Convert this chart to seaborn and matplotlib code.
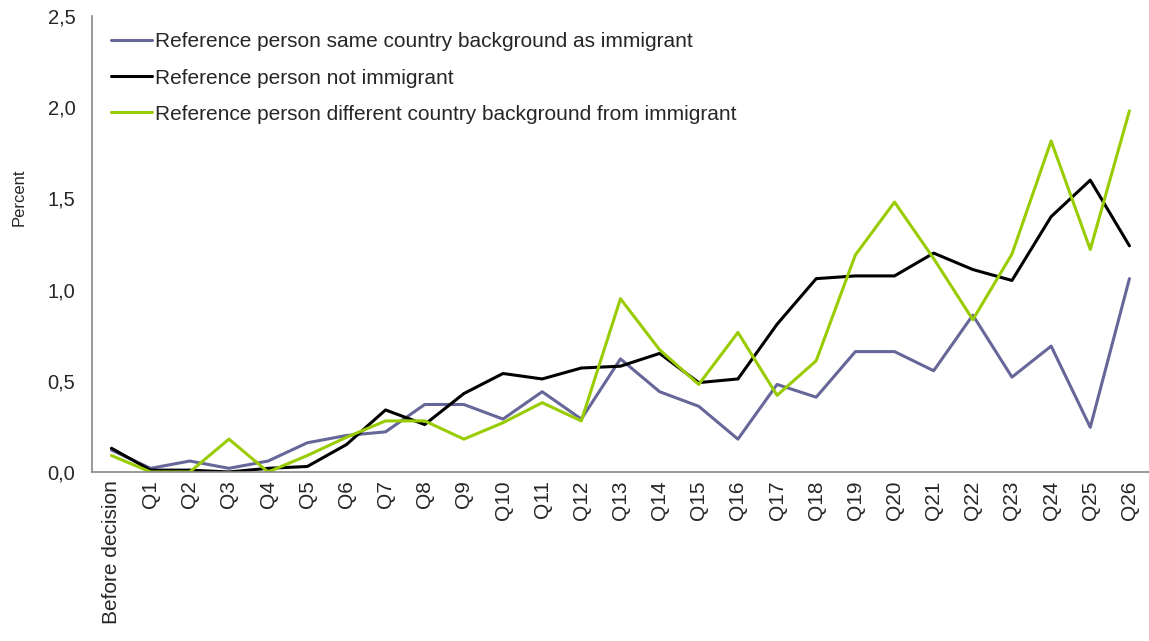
import numpy as np
import pandas as pd
import seaborn as sns
import matplotlib.pyplot as plt
from matplotlib.ticker import FixedLocator, FuncFormatter

# data
periods = ['Before decision'] + ['Q%d' % i for i in range(1, 27)]
same_bg = [0.12, 0.02, 0.06, 0.02, 0.06, 0.16, 0.20, 0.22, 0.37, 0.37, 0.29, 0.44, 0.29, 0.62,
           0.44, 0.36, 0.18, 0.48, 0.41, 0.66, 0.66, 0.555, 0.86, 0.52, 0.69, 0.245, 1.06]
not_imm = [0.13, 0.01, 0.01, 0.0, 0.02, 0.03, 0.15, 0.34, 0.26, 0.43, 0.54, 0.51, 0.57, 0.58,
           0.65, 0.49, 0.51, 0.81, 1.06, 1.075, 1.075, 1.20, 1.11, 1.05, 1.40, 1.60, 1.24]
diff_bg = [0.09, 0.0, 0.0, 0.18, 0.0, 0.09, 0.19, 0.28, 0.28, 0.18, 0.27, 0.38, 0.28, 0.95,
           0.67, 0.48, 0.765, 0.42, 0.61, 1.19, 1.48, 1.17, 0.835, 1.195, 1.815, 1.22, 1.98]

series_names = ['Reference person same country background as immigrant',
                'Reference person not immigrant',
                'Reference person different country background from immigrant']
colors = ['#666699', '#000000', '#99CC00']

df = pd.DataFrame({'x': np.arange(len(periods)), 'same': same_bg, 'not': not_imm, 'diff': diff_bg})
long = df.melt(id_vars='x', var_name='series', value_name='value')
long['series'] = long['series'].map({'same': series_names[0], 'not': series_names[1], 'diff': series_names[2]})

sns.set_style('white')
plt.rcParams['font.family'] = ['Liberation Sans', 'DejaVu Sans']

fig = plt.figure(figsize=(11.49, 6.41), dpi=100)
ax = fig.add_axes([0.080, 0.2637, 0.92, 0.7113])

sns.lineplot(data=long, x='x', y='value', hue='series', hue_order=series_names,
             palette=colors, linewidth=2.2, ax=ax)

ax.set_xlim(-0.5, len(periods) - 0.5)
ax.set_ylim(0, 2.5)
ax.set_yticks(np.arange(0, 2.51, 0.5))
ax.yaxis.set_major_formatter(FuncFormatter(lambda v, p: ('%.1f' % v).replace('.', ',')))
ax.set_xticks(np.arange(len(periods)))
ax.set_xticklabels(periods, rotation=90, fontsize=15)
ax.xaxis.set_minor_locator(FixedLocator(np.arange(-0.5, len(periods), 1)))
ax.tick_params(axis='x', which='major', length=0, pad=6)
ax.tick_params(axis='x', which='minor', length=5, color='#888888', width=1, direction='out')
ax.tick_params(axis='y', length=6, color='#888888', width=1, direction='out', labelsize=14.5, pad=6)
ax.set_xlabel('')
ax.set_ylabel('Percent', fontsize=12)
ax.yaxis.set_label_coords(-0.062, 0.603)

for s in ['top', 'right']:
    ax.spines[s].set_visible(False)
for s in ['left', 'bottom']:
    ax.spines[s].set_color('#888888')
    ax.spines[s].set_linewidth(1.2)

leg = ax.legend(loc='upper left', bbox_to_anchor=(0.0, 1.005), frameon=False, fontsize=15,
                handlelength=2.0, handletextpad=0.15, labelspacing=0.82)

fig.savefig('out.png', dpi=100)
